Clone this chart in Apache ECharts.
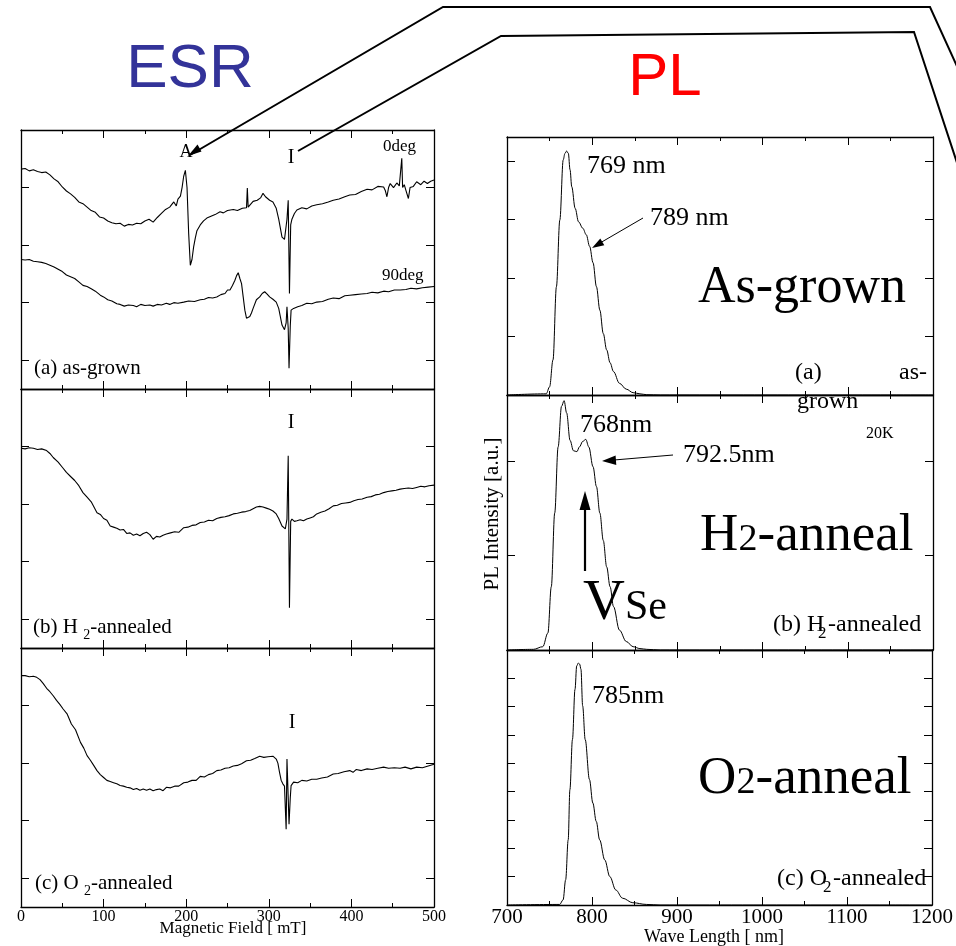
<!DOCTYPE html>
<html><head><meta charset="utf-8">
<script src="https://cdn.jsdelivr.net/npm/echarts@6/dist/echarts.min.js"></script>
<style>html,body{margin:0;padding:0;background:#fff}#c{width:956px;height:946px}</style>
</head><body><div id="c"></div>
<script>
// ---------- DATA ----------
// ESR: magnetic field [mT] vs derivative signal (arb. units)
const esrFieldTicks = [0, 100, 200, 300, 400, 500];
const esrAsGrown0deg = [[0,3.32],[5,3.33],[10,3.29],[15,3.31],[20,3.28],[25,3.26],[30,3.27],[35,3.22],[40,3.15],[45,3.10],[50,3.01],[55,2.94],[60,2.89],[65,2.83],[70,2.75],[75,2.72],[80,2.66],[85,2.60],[90,2.57],[95,2.49],[100,2.47],[105,2.42],[110,2.39],[115,2.37],[120,2.38],[125,2.33],[130,2.36],[135,2.35],[140,2.38],[145,2.37],[150,2.42],[155,2.45],[160,2.40],[165,2.48],[170,2.55],[175,2.62],[180,2.66],[185,2.75],[188,2.68],[190,2.80],[193,2.85],[195,3.0],[197,3.2],[199,3.30],[201,3.0],[203,2.2],[205,1.65],[207,1.75],[209,1.97],[211,2.12],[213,2.25],[217,2.35],[221,2.42],[225,2.47],[230,2.50],[235,2.53],[241,2.58],[245,2.56],[250,2.60],[257,2.62],[262,2.60],[268,2.64],[273,2.65],[274,2.99],[275,2.66],[281,2.76],[286,2.78],[290,2.82],[293,2.90],[296,2.84],[301,2.78],[305,2.75],[309,2.64],[312,2.45],[316,2.14],[319,2.10],[321,2.12],[322,2.45],[323.5,2.78],[325,1.16],[326.5,2.35],[328,2.45],[331,2.55],[334,2.61],[340,2.65],[346,2.63],[352,2.68],[358,2.70],[365,2.72],[372,2.75],[378,2.78],[385,2.80],[392,2.84],[398,2.87],[405,2.88],[412,2.93],[419,2.97],[425,2.96],[432,3.02],[439,3.01],[441,2.95],[443,2.84],[445,3.0],[447,3.07],[451,3.0],[455,3.08],[458,3.03],[461,3.51],[462,3.0],[464,3.05],[466,2.95],[469,2.81],[471,3.0],[475,3.02],[479,3.10],[484,3.05],[488,3.11],[492,3.07],[496,3.11],[500,3.13]];
const esrAsGrown90deg = [[0,1.75],[5,1.74],[10,1.75],[15,1.72],[20,1.71],[25,1.70],[30,1.68],[35,1.65],[40,1.62],[45,1.58],[50,1.54],[55,1.48],[60,1.45],[65,1.42],[70,1.36],[75,1.30],[80,1.28],[85,1.24],[90,1.20],[96,1.13],[100,1.10],[105,1.05],[110,1.03],[116,0.98],[120,0.97],[125,0.94],[130,0.96],[136,0.95],[140,0.93],[145,0.97],[150,0.95],[156,0.96],[160,0.94],[165,0.97],[170,0.96],[176,0.99],[180,0.97],[185,1.0],[190,0.99],[197,1.01],[203,1.03],[210,1.02],[217,1.05],[222,1.06],[227,1.09],[232,1.08],[237,1.10],[242,1.14],[247,1.16],[250,1.22],[253,1.22],[256,1.30],[259,1.39],[261,1.47],[263,1.52],[265,1.42],[267,1.33],[269,1.10],[271,0.87],[273,0.73],[275,0.70],[277,0.76],[279,0.82],[281,0.90],[285,1.05],[289,1.10],[292,1.16],[295,1.19],[298,1.15],[301,1.10],[305,1.06],[309,1.01],[312,0.90],[316,0.61],[319,0.53],[321,0.65],[322,0.93],[323.5,0.55],[324.5,-0.14],[326,0.60],[327,0.87],[330,0.90],[335,0.93],[340,0.95],[346,0.99],[352,0.98],[358,1.01],[365,1.02],[372,1.06],[378,1.08],[385,1.07],[392,1.12],[398,1.13],[405,1.14],[412,1.15],[419,1.16],[425,1.18],[432,1.17],[439,1.20],[445,1.19],[452,1.22],[459,1.22],[466,1.23],[472,1.25],[479,1.24],[486,1.26],[493,1.27],[500,1.28]];
const esrH2Annealed = [[0,2.97],[5,2.96],[10,2.98],[15,2.97],[20,2.95],[25,2.96],[31,2.93],[35,2.88],[39,2.81],[45,2.73],[50,2.64],[55,2.55],[60,2.48],[65,2.41],[70,2.32],[75,2.20],[80,2.12],[85,2.04],[92,1.85],[96,1.82],[100,1.75],[104,1.72],[108,1.62],[112,1.60],[116,1.58],[120,1.55],[124,1.56],[128,1.49],[132,1.50],[136,1.46],[140,1.48],[144,1.45],[148,1.49],[152,1.51],[156,1.47],[160,1.39],[164,1.44],[168,1.43],[172,1.46],[176,1.48],[181,1.50],[186,1.52],[191,1.51],[197,1.59],[202,1.60],[207,1.63],[212,1.64],[217,1.68],[222,1.69],[227,1.72],[232,1.71],[237,1.75],[242,1.77],[247,1.78],[252,1.80],[257,1.83],[262,1.84],[267,1.86],[272,1.87],[277,1.89],[281,1.92],[285,1.95],[289,1.96],[293,1.95],[297,1.93],[301,1.91],[305,1.88],[309,1.83],[312,1.75],[316,1.62],[318,1.65],[320,1.57],[322,1.74],[323.5,2.84],[325,0.20],[326.5,1.70],[328,1.74],[331,1.70],[334,1.71],[338,1.73],[342,1.71],[346,1.74],[350,1.76],[354,1.78],[358,1.83],[363,1.86],[368,1.88],[373,1.92],[378,1.97],[383,1.98],[388,2.01],[393,2.02],[398,2.03],[403,2.06],[408,2.08],[413,2.09],[419,2.12],[424,2.13],[429,2.16],[434,2.17],[439,2.20],[444,2.22],[449,2.23],[454,2.24],[459,2.26],[464,2.27],[469,2.28],[474,2.27],[479,2.29],[484,2.31],[489,2.30],[494,2.32],[500,2.33]];
const esrO2Annealed = [[0,3.52],[5,3.52],[10,3.50],[15,3.51],[19,3.49],[23,3.45],[27,3.38],[31,3.30],[35,3.24],[39,3.17],[43,3.09],[47,3.02],[51,2.94],[56,2.85],[61,2.68],[66,2.58],[72,2.36],[76,2.26],[80,2.13],[84,2.05],[88,1.96],[92,1.87],[96,1.80],[100,1.75],[104,1.70],[108,1.68],[112,1.66],[116,1.64],[120,1.61],[124,1.60],[128,1.58],[132,1.57],[136,1.54],[140,1.56],[144,1.53],[148,1.55],[152,1.53],[156,1.55],[160,1.52],[164,1.54],[168,1.55],[172,1.52],[176,1.58],[181,1.57],[186,1.60],[191,1.60],[197,1.66],[202,1.67],[207,1.70],[212,1.70],[217,1.77],[222,1.76],[227,1.80],[232,1.82],[237,1.87],[242,1.88],[247,1.91],[252,1.92],[257,1.95],[262,1.96],[267,1.99],[273,2.04],[278,2.05],[283,2.08],[289,2.12],[294,2.10],[299,2.11],[305,2.12],[309,2.07],[311,2.0],[313,1.84],[315,1.70],[317,1.64],[319,1.60],[320,1.58],[321,0.85],[322,2.07],[323.5,1.40],[324.5,0.94],[326,1.40],[327,1.61],[330,1.67],[335,1.66],[340,1.70],[346,1.69],[352,1.72],[358,1.72],[364,1.74],[371,1.76],[378,1.81],[384,1.82],[391,1.85],[398,1.87],[402,1.84],[406,1.89],[412,1.87],[419,1.90],[425,1.89],[432,1.91],[439,1.93],[445,1.91],[452,1.92],[459,1.91],[465,1.93],[472,1.90],[479,1.93],[486,1.92],[493,1.95],[500,1.98]];

// PL: wavelength [nm] vs intensity (arb. units), 20K
const plWaveTicks = [700, 800, 900, 1000, 1100, 1200];
const plAsGrown = [[700,0],[746,0.02],[750,0.14],[754,0.60],[758,1.85],[762,2.99],[766,4.02],[768,4.13],[770,4.17],[772,4.13],[774,3.85],[776,3.56],[780,3.19],[784,2.96],[789,2.85],[793,2.74],[797,2.54],[801,2.26],[805,1.85],[809,1.45],[813,1.05],[817,0.77],[821,0.55],[825,0.40],[832,0.20],[840,0.10],[848,0.04],[856,0.02],[864,0.005],[880,0],[1200,0]];
const plH2Annealed = [[700,0],[731,0.007],[742,0.035],[748,0.18],[752,0.67],[756,1.45],[760,2.15],[764,2.58],[767,2.64],[770,2.51],[774,2.22],[778,2.11],[782,2.10],[785,2.15],[789,2.21],[792.5,2.23],[796,2.15],[801,1.94],[805,1.73],[809,1.45],[813,1.16],[817,0.88],[821,0.67],[825,0.46],[832,0.21],[840,0.09],[848,0.035],[856,0.015],[864,0.007],[880,0],[1200,0]];
const plO2Annealed = [[700,0],[762,0.02],[766,0.18],[769,0.89],[772,2.30],[774,4.07],[777,5.84],[780,7.61],[782,8.44],[784,8.54],[785.5,8.50],[787,8.32],[789,7.03],[792,5.84],[797,4.43],[801,3.60],[805,2.95],[809,2.30],[815,1.59],[821,1.00],[828,0.53],[836,0.24],[848,0.08],[864,0.02],[880,0],[1200,0]];

// ---------- CHART ----------
const SERIF = '"Liberation Serif", "Times New Roman", serif';
const SANS = '"Liberation Sans", Arial, sans-serif';
const chart = echarts.init(document.getElementById('c'), null, {renderer: 'canvas'});

const grids = [
  {left: 21, top: 130, width: 413, height: 259},
  {left: 21, top: 389, width: 413, height: 259},
  {left: 21, top: 648, width: 413, height: 259},
  {left: 507, top: 137, width: 426, height: 258},
  {left: 507, top: 395, width: 426, height: 255},
  {left: 507, top: 650, width: 426, height: 255}
];
const xRange = [[0,500],[0,500],[0,500],[700,1200],[700,1200],[700,1200]];
const yRange = [[-0.5,4],[-0.5,4],[-0.5,4],[0,4.41],[0,2.7],[0,9]];
const yTicks = [[0,1,2,3],[0,1,2,3],[0,1,2,3],[1,2,3,4],[1,2],[1,2,3,4,5,6,7,8]];

const axisLine = {show: true, onZero: false, lineStyle: {color: '#000', width: 1.3}};
const xAxes = [], yAxes = [];
grids.forEach((g, i) => {
  const showLab = (i === 2 || i === 5);
  const fs = i === 5 ? 21 : 16;
  const labVals = i < 3 ? esrFieldTicks : plWaveTicks;
  ['bottom', 'top'].forEach(pos => {
    xAxes.push({
      type: 'value', gridIndex: i, position: pos, min: xRange[i][0], max: xRange[i][1], interval: 100,
      axisLine: axisLine,
      axisTick: {show: true, inside: true, length: 8, lineStyle: {color: '#000', width: 1}},
      minorTick: {show: true, splitNumber: 2, length: 4, lineStyle: {color: '#000', width: 1}},
      splitLine: {show: false}, minorSplitLine: {show: false},
      axisLabel: {show: showLab && pos === 'bottom', color: '#000', fontFamily: SERIF, fontSize: fs, margin: 2,
        customValues: labVals, formatter: v => String(v)}
    });
  });
  ['left', 'right'].forEach(pos => {
    yAxes.push({
      type: 'value', gridIndex: i, position: pos, min: yRange[i][0], max: yRange[i][1],
      axisLine: axisLine,
      axisTick: {show: true, inside: true, length: 8, customValues: yTicks[i], lineStyle: {color: '#000', width: 1}},
      axisLabel: {show: false}, splitLine: {show: false}
    });
  });
});

function ser(gi, data, smooth) {
  return {
    type: 'line', xAxisIndex: gi * 2, yAxisIndex: gi * 2, data: data,
    showSymbol: false, symbol: 'none', smooth: smooth ? 0.35 : false,
    smoothMonotone: smooth ? 'x' : undefined,
    lineStyle: {color: '#000', width: smooth ? 1 : 1.1}, itemStyle: {color: '#000'},
    silent: true, animation: false, z: 3
  };
}

function txt(x, y, text, fs, extra) {
  return {type: 'text', x: x, y: y, z: 100, silent: true,
    style: Object.assign({text: text, fill: '#000', fontFamily: SERIF, fontSize: fs, align: 'left', verticalAlign: 'middle'}, extra || {})};
}
// text whose baseline sits at y (Liberation Serif descent = 0.216 em)
function btxt(x, baseY, text, fs, extra) {
  return txt(x, baseY + 0.216 * fs, text, fs, Object.assign({verticalAlign: 'bottom'}, extra || {}));
}
function line(points, w) {
  return {type: 'polyline', z: 100, silent: true, shape: {points: points}, style: {stroke: '#000', lineWidth: w || 1.2, fill: null}};
}
function head(points) {
  return {type: 'polygon', z: 100, silent: true, shape: {points: points}, style: {fill: '#000'}};
}

const graphic = [
  // Titles
  txt(190, 70, 'ESR', 62, {fontFamily: SANS, fill: '#333399', align: 'center'}),
  txt(665, 78, 'PL', 60, {fontFamily: SANS, fill: '#ff0000', align: 'center'}),
  // connector lines
  line([[190, 155], [443, 7], [930, 7], [960, 73]], 2),
  head([[188, 156], [201.5, 151.5], [197.5, 144.5]]),
  line([[298, 151], [501, 36], [914, 32], [960, 172]], 2),
  // ESR annotations
  txt(186, 152, 'A', 18, {align: 'center'}),
  txt(291, 158, 'I', 20, {align: 'center'}),
  txt(383, 147, '0deg', 17),
  txt(382, 276, '90deg', 17),
  txt(34, 368, '(a) as-grown', 21),
  txt(291, 423, 'I', 20, {align: 'center'}),
  txt(33, 627, '{n|(b) H }{s|2}{n|-annealed}', 21, {rich: {n: {fontSize: 21, fontFamily: SERIF, lineHeight: 30}, s: {fontSize: 14, fontFamily: SERIF, lineHeight: 12, verticalAlign: 'bottom'}}}),
  txt(292, 723, 'I', 20, {align: 'center'}),
  txt(35, 883, '{n|(c) O }{s|2}{n|-annealed}', 21, {rich: {n: {fontSize: 21, fontFamily: SERIF, lineHeight: 30}, s: {fontSize: 14, fontFamily: SERIF, lineHeight: 12, verticalAlign: 'bottom'}}}),
  txt(233, 929, 'Magnetic Field [ mT]', 17, {align: 'center'}),
  // PL annotations
  txt(587, 166, '769 nm', 26),
  txt(650, 218, '789 nm', 26),
  line([[643, 218], [600, 243]], 1),
  head([[592, 248], [604.3, 245.3], [600.3, 238.5]]),
  txt(698, 288, 'As-grown', 52),
  txt(795, 373, '(a)', 24),
  txt(927, 373, 'as-', 24, {align: 'right'}),
  txt(797, 402, 'grown', 24),
  txt(580, 425, '768nm', 26),
  txt(683, 455, '792.5nm', 26),
  txt(866, 434, '20K', 16),
  line([[673, 455], [614, 460]], 1),
  head([[602, 461], [616.3, 465], [615.6, 455.5]]),
  line([[585, 571], [585, 505]], 2.2),
  head([[585, 491], [579.5, 510], [590.5, 510]]),
  // VSe (baseline aligned, smaller "Se")
  btxt(583, 620, 'V', 58),
  btxt(625, 620, 'Se', 42),
  // H2-anneal
  btxt(700, 551, 'H', 53),
  btxt(738.5, 551, '2', 38),
  btxt(757.5, 551, '-anneal', 53),
  // (b) H2-annealed
  btxt(773, 632, '(b) H', 24),
  btxt(818, 638, '2', 17),
  btxt(828, 632, '-annealed', 24),
  txt(592, 696, '785nm', 26),
  // O2-anneal
  btxt(698, 794, 'O', 53),
  btxt(736.5, 794, '2', 38),
  btxt(755.5, 794, '-anneal', 53),
  // (c) O2-annealed
  btxt(777, 886, '(c) O', 24),
  btxt(823, 892, '2', 17),
  btxt(833, 886, '-annealed', 24),
  txt(714, 937, 'Wave Length [ nm]', 18, {align: 'center'}),
  {type: 'text', x: 492, y: 514, rotation: Math.PI / 2, z: 100, silent: true,
    style: {text: 'PL Intensity [a.u.]', fill: '#000', fontFamily: SERIF, fontSize: 21, align: 'center', verticalAlign: 'middle'}}
];

chart.setOption({
  animation: false,
  backgroundColor: '#fff',
  grid: grids.map(g => Object.assign({containLabel: false}, g)),
  xAxis: xAxes,
  yAxis: yAxes,
  series: [
    ser(0, esrAsGrown0deg, false),
    ser(0, esrAsGrown90deg, false),
    ser(1, esrH2Annealed, false),
    ser(2, esrO2Annealed, false),
    ser(3, plAsGrown, true),
    ser(4, plH2Annealed, true),
    ser(5, plO2Annealed, true)
  ],
  graphic: graphic
});
</script>
</body></html>
